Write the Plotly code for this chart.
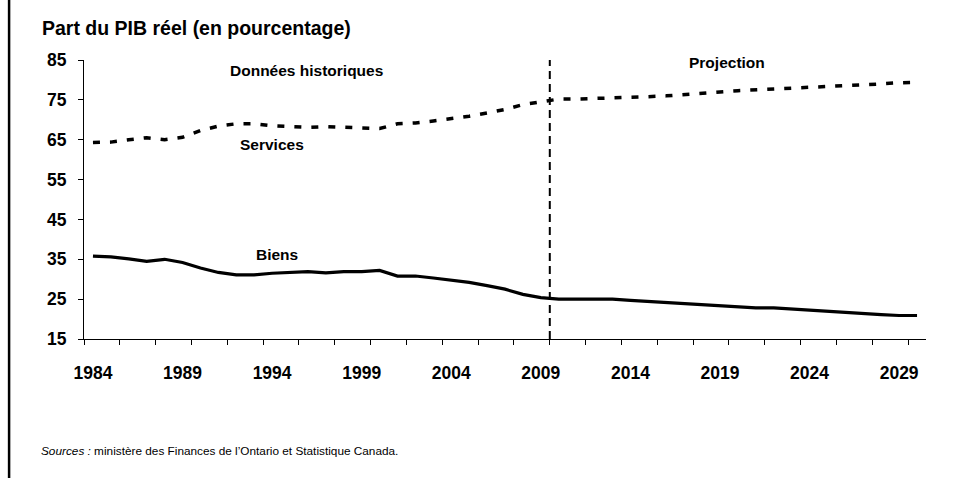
import plotly.graph_objects as go

# Share of real GDP (%), historical 1984-2009 and projection 2010-2030
years = list(range(1984, 2031))
services = [64.3, 64.4, 65.0, 65.5, 65.0, 65.6, 67.3, 68.4, 69.0, 69.0,
            68.5, 68.2, 68.1, 68.3, 68.2, 68.1, 67.8, 69.0, 69.2, 69.7,
            70.2, 70.9, 71.7, 72.6, 73.8, 74.6, 75.2, 75.2, 75.3, 75.4,
            75.6, 75.8, 76.0, 76.4, 76.7, 77.0, 77.3, 77.5, 77.6, 77.8,
            78.0, 78.3, 78.5, 78.7, 79.0, 79.3, 79.4]
biens = [35.8, 35.6, 35.1, 34.5, 35.0, 34.2, 32.8, 31.7, 31.1, 31.1,
         31.5, 31.8, 31.9, 31.6, 31.9, 31.9, 32.2, 30.8, 30.8, 30.3,
         29.8, 29.2, 28.4, 27.5, 26.2, 25.4, 25.0, 25.0, 25.0, 25.0,
         24.7, 24.4, 24.2, 23.9, 23.6, 23.4, 23.1, 22.8, 22.8, 22.5,
         22.2, 21.9, 21.7, 21.4, 21.1, 20.9, 20.9]
label_years = [1984, 1989, 1994, 1999, 2004, 2009, 2014, 2019, 2024, 2029]
y_ticks = [15, 25, 35, 45, 55, 65, 75, 85]
split_year = 2009.5

W, H = 961, 478
ML, MR, MT, MB = 83.5, 34.5, 60, 139
plot_w = W - ML - MR
plot_h = H - MT - MB


def px_to_paper_x(px):
    return (px - ML) / plot_w


def px_to_paper_y(py):
    return (H - MB - py) / plot_h


SANS = "Liberation Sans, Arial, sans-serif"
xr = [years[0] - 0.5, years[-1] + 0.5]

fig = go.Figure()
fig.add_trace(go.Scatter(x=years, y=services, mode="lines", name="Services",
                         line=dict(color="black", width=3.5, dash="7px,10px")))
fig.add_trace(go.Scatter(x=years, y=biens, mode="lines", name="Biens",
                         line=dict(color="black", width=3.2)))
# invisible trace carrying the minor tick axis
fig.add_trace(go.Scatter(x=xr, y=[None, None], xaxis="x2", showlegend=False,
                         hoverinfo="skip"))

# boundary between history and projection
fig.add_shape(type="line", xref="x", yref="y", x0=split_year, x1=split_year,
              y0=15, y1=85, line=dict(color="black", width=2, dash="8px,5px"))
# left frame rule
fig.add_shape(type="line", xref="paper", yref="paper",
              x0=px_to_paper_x(8.5), x1=px_to_paper_x(8.5),
              y0=px_to_paper_y(H), y1=px_to_paper_y(0),
              line=dict(color="black", width=2.5))

ann_font = dict(family=SANS, size=15.5, color="black")
for txt, ax, ay in [("<b>Données historiques</b>", 1995.9, 82.4),
                    ("<b>Projection</b>", 2019.4, 84.3),
                    ("<b>Services</b>", 1994.0, 63.8),
                    ("<b>Biens</b>", 1994.3, 36.2)]:
    fig.add_annotation(x=ax, y=ay, xref="x", yref="y", text=txt,
                       showarrow=False, font=ann_font)

fig.add_annotation(xref="paper", yref="paper", x=px_to_paper_x(38),
                   y=px_to_paper_y(451), xanchor="left", yanchor="middle",
                   showarrow=False,
                   text="<i>Sources :</i> ministère des Finances de l’Ontario et Statistique Canada.",
                   font=dict(family=SANS, size=11.8, color="black"))

tick_font = dict(family=SANS, size=17.5, color="black", weight="bold")

fig.update_layout(
    width=W, height=H, autosize=False,
    margin=dict(l=ML, r=MR, t=MT, b=MB, pad=0),
    paper_bgcolor="white", plot_bgcolor="white",
    showlegend=False,
    title=dict(text="<b>Part du PIB réel (en pourcentage)</b>",
               xref="container", yref="container",
               x=42 / W, y=1 - 28 / H, xanchor="left", yanchor="middle",
               font=dict(family=SANS, size=19.5, color="black")),
    xaxis=dict(range=xr, tickmode="array", tickvals=label_years,
               ticktext=[str(v) for v in label_years], ticks="",
               showline=True, linecolor="black", linewidth=1.2,
               showgrid=False, zeroline=False, ticklabelstandoff=18,
               tickfont=tick_font),
    xaxis2=dict(range=xr, overlaying="x", side="bottom", tickmode="array",
                tickvals=[y - 0.5 for y in years[::2]], ticks="outside",
                ticklen=5, tickwidth=1.2, tickcolor="black",
                showticklabels=False, showline=False, showgrid=False,
                zeroline=False),
    yaxis=dict(range=[15, 85], tickmode="array", tickvals=y_ticks,
               ticks="outside", ticklen=5, tickwidth=1.2, tickcolor="black",
               showline=True, linecolor="black", linewidth=1.2,
               showgrid=False, zeroline=False, ticklabelstandoff=8,
               tickfont=tick_font),
)

fig.write_html("out.html")
